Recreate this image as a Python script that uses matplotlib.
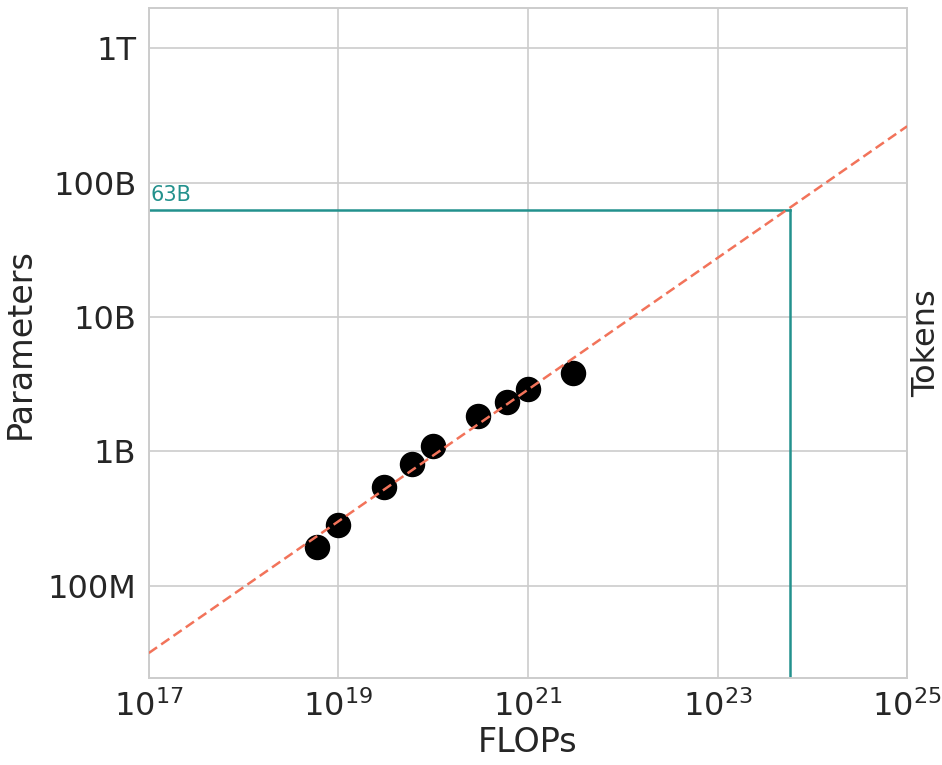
import numpy as np
import matplotlib
matplotlib.use("Agg")
import matplotlib.pyplot as plt
from matplotlib.ticker import FixedLocator, NullLocator, FuncFormatter

# measured model runs (compute vs. parameter count)
flops = [6.0e18, 1.0e19, 3.0e19, 6.0e19, 1.0e20, 3.0e20, 6.0e20, 1.0e21, 3.0e21]
params = [1.95e8, 2.85e8, 5.4e8, 8.1e8, 1.09e9, 1.83e9, 2.32e9, 2.9e9, 3.8e9]

# power-law fit N = coef * (C / 1e17) ** exp
fit_coef = 3.16e7
fit_exp = 0.49

budget_flops = 5.8e23
budget_params = 63e9
budget_label = "63B"

y_tick_vals = [1e8, 1e9, 1e10, 1e11, 1e12]
y_tick_labels = ["100M", "1B", "10B", "100B", "1T"]
x_tick_vals = [1e17, 1e19, 1e21, 1e23, 1e25]

teal = "#23918d"
salmon = "#f2735a"
grey = "#cccccc"

plt.rcParams['font.family'] = ['DejaVu Sans']
fig = plt.figure(figsize=(9.42, 7.65), dpi=100)
ax = fig.add_axes([0.158, 0.1134, 0.805, 0.876])

ax.set_xscale('log')
ax.set_yscale('log')
ax.set_xlim(1e17, 1e25)
ax.set_ylim(2.05e7, 1.99e12)

# fit line over the whole x range
xs = np.logspace(17, 25, 50)
ax.plot(xs, fit_coef * (xs / 1e17) ** fit_exp, color=salmon, lw=1.8,
        ls='--', dashes=(4, 2), zorder=4)

ax.scatter(flops, params, s=300, color='black', zorder=3)

# budget projection
ax.plot([1e17, budget_flops], [budget_params, budget_params], color=teal, lw=1.8, zorder=2)
ax.plot([budget_flops, budget_flops], [2.05e7, budget_params], color=teal, lw=1.8, zorder=2)
ax.text(1.05e17, budget_params * 1.08, budget_label, color=teal, fontsize=15,
        ha='left', va='bottom')

ax.xaxis.set_major_locator(FixedLocator(x_tick_vals))
ax.xaxis.set_minor_locator(NullLocator())
ax.xaxis.set_major_formatter(FuncFormatter(lambda v, p: r'$10^{%d}$' % round(np.log10(v))))
ax.yaxis.set_major_locator(FixedLocator(y_tick_vals))
ax.yaxis.set_minor_locator(NullLocator())
ax.set_yticklabels(y_tick_labels)

ax.grid(True, color=grey, lw=1.2)
ax.set_axisbelow(True)
for sp in ax.spines.values():
    sp.set_color(grey)
    sp.set_linewidth(1.4)
ax.tick_params(axis='both', length=0, labelsize=23, labelcolor='#262626', pad=9)

ax.set_xlabel("FLOPs", fontsize=24, color='#262626', labelpad=2)
ax.set_ylabel("Parameters", fontsize=24, color='#262626', labelpad=8)

ax2 = ax.twinx()
ax2.set_yticks([])
for sp in ax2.spines.values():
    sp.set_visible(False)
ax2.set_ylabel("Tokens", fontsize=23, color='#262626', labelpad=3)

fig.savefig("out.png", dpi=100)
